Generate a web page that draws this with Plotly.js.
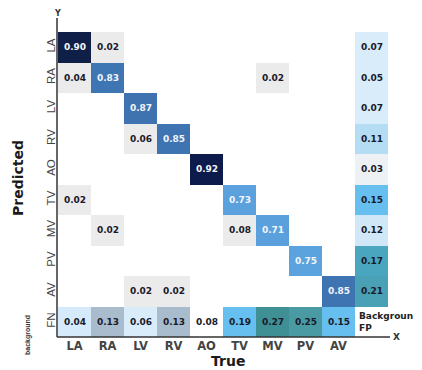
<!DOCTYPE html>
<html>
<head>
<meta charset="utf-8">
<script src="https://cdn.plot.ly/plotly-3.0.1.min.js"></script>
<style>html,body{margin:0;padding:0;background:#fff;}#chart{width:422px;height:370px;}</style>
</head>
<body>
<div id="chart"></div>
<script>
// ---- data ----
const predictedLabels = ['LA','RA','LV','RV','AO','TV','MV','PV','AV','FN'];
const trueLabels = ['LA','RA','LV','RV','AO','TV','MV','PV','AV','Background FP'];
// rows = predicted, cols = true (9 x 9 class block)
const confusion = [
  [0.90, 0.02, null, null, null, null, null, null, null],
  [0.04, 0.83, null, null, null, null, 0.02, null, null],
  [null, null, 0.87, null, null, null, null, null, null],
  [null, null, 0.06, 0.85, null, null, null, null, null],
  [null, null, null, null, 0.92, null, null, null, null],
  [0.02, null, null, null, null, 0.73, null, null, null],
  [null, 0.02, null, null, null, 0.08, 0.71, null, null],
  [null, null, null, null, null, null, null, 0.75, null],
  [null, null, 0.02, 0.02, null, null, null, null, 0.85]
];
const backgroundFP = [0.07, 0.05, 0.07, 0.11, 0.03, 0.15, 0.12, 0.17, 0.21];
const backgroundFN = [0.04, 0.13, 0.06, 0.13, 0.08, 0.19, 0.27, 0.25, 0.15];

// ---- styles ----
const diagStops = [[0.70,'#5a9fdb'],[0.75,'#5ba3de'],[0.83,'#3e75b3'],[0.87,'#3e73b0'],[0.90,'#101f48'],[0.92,'#0c1a4c']];
const marginStops = [[0.03,'#eef1f4'],[0.04,'#d5eafa'],[0.05,'#d8ecfa'],[0.06,'#d8ecfa'],[0.07,'#d8ecfa'],[0.08,'#ffffff'],
  [0.11,'#b4dcf3'],[0.12,'#cfe7f7'],[0.13,'#a8bccd'],[0.15,'#66bfef'],[0.17,'#4aa6be'],[0.19,'#66bfef'],
  [0.21,'#4aa0b4'],[0.25,'#4a9aa4'],[0.27,'#3f9094']];

function scaleFrom(stops, zmin, zmax) {
  const s = stops.map(([v,c]) => [(v - zmin) / (zmax - zmin), c]);
  if (s[0][0] > 0) s.unshift([0, s[0][1]]);
  if (s[s.length-1][0] < 1) s.push([1, s[s.length-1][1]]);
  s[0][0] = 0; s[s.length-1][0] = 1;
  return s;
}

const n = predictedLabels.length;
const idx = [...Array(n).keys()];
function blank() { return idx.map(() => idx.map(() => null)); }
const zDiag = blank(), zOff = blank(), zMargin = blank();
for (let i = 0; i < 9; i++) for (let j = 0; j < 9; j++) {
  const v = confusion[i][j];
  if (v === null) continue;
  if (i === j) zDiag[i][j] = v; else zOff[i][j] = v;
}
for (let i = 0; i < 9; i++) zMargin[i][9] = backgroundFP[i];
for (let j = 0; j < 9; j++) zMargin[9][j] = backgroundFN[j];
const txt = z => z.map(r => r.map(v => v === null ? '' : v.toFixed(2)));

const cellFont = {family: 'DejaVu Sans', size: 9, weight: 'bold'};
function hm(z, scale, zmin, zmax, color) {
  return {type: 'heatmap', x: idx, y: idx, z: z, text: txt(z), texttemplate: '%{text}',
    textfont: Object.assign({}, cellFont, {color: color}),
    colorscale: scale, zmin: zmin, zmax: zmax, showscale: false, hoverinfo: 'skip', xgap: 0, ygap: 0};
}
const traces = [
  hm(zOff, [[0,'#ebebeb'],[1,'#ebebeb']], 0, 1, '#1a1a2a'),
  hm(zMargin, scaleFrom(marginStops, 0, 0.3), 0, 0.3, '#1a1a2a'),
  hm(zDiag, scaleFrom(diagStops, 0.70, 0.92), 0.70, 0.92, '#f2f5fa')
];

const W = 422, H = 370, L = 58, R = 34, T = 32, B = 33;
const pw = W - L - R, ph = H - T - B;
const px = x => (x - L) / pw, py = y => (H - B - y) / ph;
function note(x, y, text, font, extra) {
  return Object.assign({xref: 'paper', yref: 'paper', x: px(x), y: py(y), xanchor: 'center', yanchor: 'middle',
    showarrow: false, text: text, font: font}, extra || {});
}

const layout = {
  width: W, height: H,
  margin: {l: L, r: R, t: T, b: B, pad: 0},
  paper_bgcolor: '#fff', plot_bgcolor: '#fff',
  showlegend: false,
  xaxis: {range: [-0.5, 9.5], tickvals: idx.slice(0, 9), ticktext: trueLabels.slice(0, 9),
    showgrid: false, zeroline: false, showline: false, ticks: '',
    tickfont: {family: 'DejaVu Sans', size: 11.5, weight: 'bold', color: '#444'}, fixedrange: true},
  yaxis: {range: [9.5, -0.5], tickvals: idx, ticktext: predictedLabels, tickangle: -90,
    showgrid: false, zeroline: false, showline: false, ticks: '',
    tickfont: {family: 'Liberation Sans', size: 11.5, color: '#444'}, fixedrange: true},
  shapes: [
    {type: 'line', xref: 'paper', yref: 'paper', x0: px(57), x1: px(57), y0: py(337), y1: py(18), line: {color: '#333', width: 1.5}},
    {type: 'line', xref: 'paper', yref: 'paper', x0: px(57), x1: px(390), y0: py(337), y1: py(337), line: {color: '#333', width: 1.5}}
  ],
  annotations: [
    {xref: 'x', yref: 'y', x: 8.55, y: 9, xanchor: 'left', yanchor: 'middle', align: 'left', showarrow: false,
      text: 'Backgroun<br>FP', font: {family: 'DejaVu Sans', size: 9, weight: 'bold', color: '#222'}},
    note(57, 13, 'Y', {family: 'DejaVu Sans', size: 8, weight: 'bold', color: '#333'}),
    note(396, 337, 'X', {family: 'DejaVu Sans', size: 9, weight: 'bold', color: '#333'}),
    note(18, 178, 'Predicted', {family: 'DejaVu Sans', size: 14, weight: 'bold', color: '#1a1a1a'}, {textangle: -90}),
    note(28, 335, 'background', {family: 'Liberation Sans', size: 7, weight: 'bold', color: '#333'}, {textangle: -90}),
    note(228, 361, 'True', {family: 'DejaVu Sans', size: 14, weight: 'bold', color: '#1a1a1a'})
  ]
};

Plotly.newPlot('chart', traces, layout, {staticPlot: true, displayModeBar: false});
</script>
</body>
</html>
